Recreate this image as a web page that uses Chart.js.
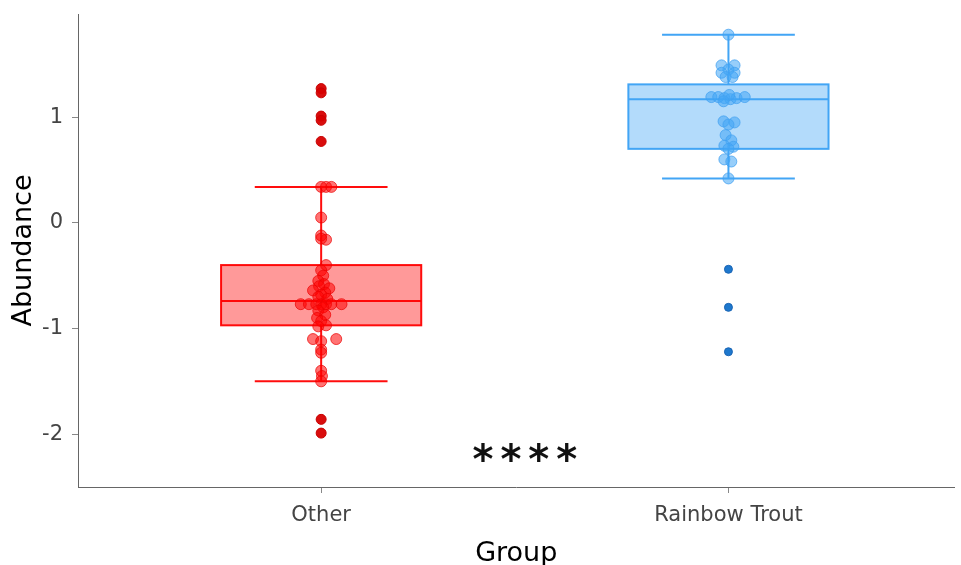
<!DOCTYPE html>
<html>
<head>
<meta charset="utf-8">
<script src="https://cdn.jsdelivr.net/npm/chart.js@4/dist/chart.umd.min.js"></script>
<style>
  html, body { margin: 0; padding: 0; background: #fff; }
  #wrap { width: 961px; height: 565px; }
</style>
</head>
<body>
<div id="wrap"><canvas id="boxChart" width="961" height="565"></canvas></div>
<script>
// Groups and box stats
const groups = ['Other', 'Rainbow Trout'];
const boxLow = [-1.50, 0.42];
const boxQ1 = [-0.97, 0.70];
const boxMedian = [-0.74, 1.17];
const boxQ3 = [-0.40, 1.31];
const boxHigh = [0.34, 1.78];

// Jittered points: x is the group position plus a small offset
const otherX = [0, 0.012, 0.025, 0, 0, 0.012, 0, 0.012, 0, 0.005, -0.007, 0.007, -0.005, 0.02, -0.02,
  0.01, 0, -0.007, 0.015, -0.05, -0.03, -0.012, 0, 0.012, 0.025, 0.05, 0.005, -0.007, 0.01, -0.01,
  0, 0.012, -0.007, -0.02, 0, 0.037, 0, 0, 0, 0.002, 0];
const otherY = [0.34, 0.34, 0.34, 0.05, -0.12, -0.16, -0.15, -0.40, -0.45, -0.50, -0.55, -0.58, -0.60, -0.62, -0.64,
  -0.66, -0.68, -0.70, -0.72, -0.77, -0.77, -0.77, -0.77, -0.77, -0.77, -0.77, -0.80, -0.83, -0.87, -0.90,
  -0.93, -0.97, -0.98, -1.10, -1.12, -1.10, -1.20, -1.23, -1.40, -1.45, -1.50];
const otherOutX = [0, 0, 0, 0, 0, 0, 0];
const otherOutY = [1.27, 1.23, 1.01, 0.97, 0.77, -1.86, -1.99];

const troutX = [1, 0.983, 1.015, 1, 0.983, 1.015, 0.993, 1.01, 0.958, 0.975, 0.99, 1.005, 1.02, 1.04, 1.002, 0.988,
  0.988, 1.015, 1, 0.993, 1.007, 0.99, 1.012, 1, 0.99, 1.007, 1];
const troutY = [1.78, 1.49, 1.49, 1.45, 1.42, 1.42, 1.38, 1.38, 1.19, 1.19, 1.18, 1.17, 1.18, 1.19, 1.21, 1.15,
  0.96, 0.95, 0.93, 0.83, 0.78, 0.73, 0.72, 0.70, 0.60, 0.58, 0.42];
const troutOutX = [1, 1, 1];
const troutOutY = [-0.44, -0.80, -1.22];

const yTicks = [-2, -1, 0, 1];
const sigLabel = '****';
const sigPos = { x: 0.5, y: -2.17 };

const strokeColors = ['rgba(255, 0, 0, 0.95)', 'rgba(66, 165, 245, 1)'];
const fillColors = ['rgba(255, 0, 0, 0.4)', 'rgba(66, 165, 245, 0.4)'];

const toPoints = (xs, ys) => xs.map((x, i) => ({ x: x, y: ys[i] }));

// Boxes, whiskers and the significance mark
const boxPlugin = {
  id: 'boxes',
  beforeDatasetsDraw(chart) {
    const { ctx, scales: { x, y } } = chart;
    const boxHalf = 0.2457, capHalf = 0.163;
    ctx.save();
    ctx.lineWidth = 2;
    groups.forEach((g, i) => {
      const xl = x.getPixelForValue(i - boxHalf);
      const xr = x.getPixelForValue(i + boxHalf);
      const xc = x.getPixelForValue(i);
      const yq1 = y.getPixelForValue(boxQ1[i]);
      const yq3 = y.getPixelForValue(boxQ3[i]);
      ctx.fillStyle = fillColors[i];
      ctx.strokeStyle = strokeColors[i];
      ctx.fillRect(xl, yq3, xr - xl, yq1 - yq3);
      ctx.strokeRect(xl, yq3, xr - xl, yq1 - yq3);
      ctx.beginPath();
      const ym = y.getPixelForValue(boxMedian[i]);
      ctx.moveTo(xl, ym); ctx.lineTo(xr, ym);
      const yHi = y.getPixelForValue(boxHigh[i]);
      const yLo = y.getPixelForValue(boxLow[i]);
      ctx.moveTo(xc, yq3); ctx.lineTo(xc, yHi);
      ctx.moveTo(xc, yq1); ctx.lineTo(xc, yLo);
      ctx.moveTo(x.getPixelForValue(i - capHalf), yHi); ctx.lineTo(x.getPixelForValue(i + capHalf), yHi);
      ctx.moveTo(x.getPixelForValue(i - capHalf), yLo); ctx.lineTo(x.getPixelForValue(i + capHalf), yLo);
      ctx.stroke();
    });
    ctx.restore();
  },
  afterDatasetsDraw(chart) {
    const { ctx, scales: { x, y } } = chart;
    ctx.save();
    ctx.fillStyle = '#111';
    ctx.font = 'bold 40px "DejaVu Sans"';
    ctx.letterSpacing = '7px';
    ctx.textAlign = 'left';
    ctx.textBaseline = 'alphabetic';
    const m = ctx.measureText(sigLabel);
    const w = m.width - 7;
    const cy = y.getPixelForValue(sigPos.y) + (m.actualBoundingBoxAscent - m.actualBoundingBoxDescent) / 2;
    ctx.fillText(sigLabel, x.getPixelForValue(sigPos.x) - w / 2, cy);
    ctx.restore();
  }
};

const ctx = document.getElementById('boxChart').getContext('2d');
new Chart(ctx, {
  type: 'scatter',
  data: {
    datasets: [
      {
        label: 'Other',
        data: toPoints(otherX, otherY),
        backgroundColor: 'rgba(255, 0, 0, 0.55)',
        borderColor: 'rgba(235, 0, 0, 0.7)',
        borderWidth: 1,
        pointRadius: 5.5
      },
      {
        label: 'Other outliers',
        data: toPoints(otherOutX, otherOutY),
        backgroundColor: 'rgba(215, 0, 0, 0.95)',
        borderColor: 'rgba(200, 0, 0, 1)',
        borderWidth: 1,
        pointRadius: 5
      },
      {
        label: 'Rainbow Trout',
        data: toPoints(troutX, troutY),
        backgroundColor: 'rgba(66, 165, 245, 0.55)',
        borderColor: 'rgba(66, 160, 240, 0.75)',
        borderWidth: 1,
        pointRadius: 5.5
      },
      {
        label: 'Rainbow Trout outliers',
        data: toPoints(troutOutX, troutOutY),
        backgroundColor: 'rgba(30, 120, 205, 1)',
        borderColor: 'rgba(25, 100, 180, 1)',
        borderWidth: 1,
        pointRadius: 4
      }
    ]
  },
  plugins: [boxPlugin],
  options: {
    responsive: false,
    animation: false,
    layout: { padding: { top: 14, right: 0, left: 0, bottom: 0 } },
    plugins: {
      legend: { display: false },
      tooltip: { enabled: false }
    },
    scales: {
      x: {
        type: 'linear',
        min: -0.597,
        max: 1.555,
        afterBuildTicks: (scale) => { scale.ticks = groups.map((g, i) => ({ value: i })); },
        afterFit: (scale) => {
          scale.height = 78;
          scale.paddingLeft = 0;
          scale.paddingRight = 0;
        },
        ticks: {
          callback: (v) => groups[v] ?? '',
          color: '#444',
          font: { family: 'DejaVu Sans', size: 21 },
          padding: 10,
          maxRotation: 0
        },
        grid: { drawOnChartArea: false, tickLength: 6, color: '#888' },
        border: { display: true, color: '#666', width: 1 },
        title: {
          display: true,
          text: 'Group',
          color: '#000',
          font: { family: 'DejaVu Sans', size: 27, lineHeight: 0.8 },
          padding: { top: 0, bottom: 0 }
        }
      },
      y: {
        min: -2.5,
        max: 1.976,
        afterBuildTicks: (scale) => { scale.ticks = yTicks.map(v => ({ value: v })); },
        afterFit: (scale) => {
          scale.width = 78;
          scale.paddingTop = 0;
          scale.paddingBottom = 0;
        },
        ticks: {
          color: '#444',
          font: { family: 'DejaVu Sans', size: 21 },
          padding: 9
        },
        grid: { drawOnChartArea: false, tickLength: 6, color: '#888' },
        border: { display: true, color: '#666', width: 1 },
        title: {
          display: true,
          text: 'Abundance',
          color: '#000',
          font: { family: 'DejaVu Sans', size: 27 },
          padding: { top: 8, bottom: 0 }
        }
      }
    }
  }
});
</script>
</body>
</html>
